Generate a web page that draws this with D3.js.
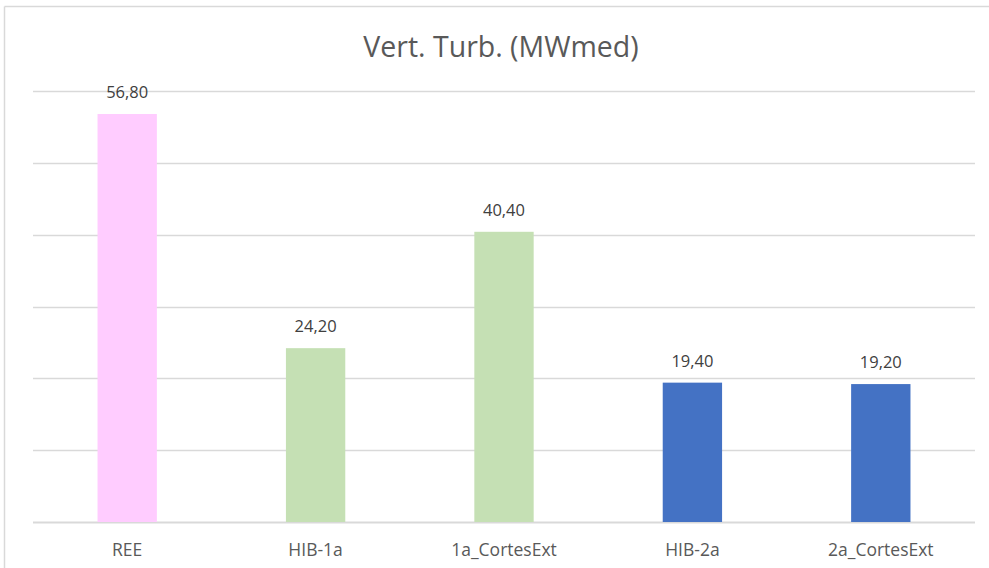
<!DOCTYPE html>
<html>
<head>
<meta charset="utf-8">
<script src="https://cdn.jsdelivr.net/npm/d3@7"></script>
<style>
  html, body { margin: 0; padding: 0; background: #fff; }
  svg { display: block; font-family: "Open Sans", "Noto Sans", sans-serif; }
</style>
</head>
<body>
<svg id="chart" width="989" height="568"></svg>
<script>
// Vert. Turb. (MWmed) — column chart
const categories = ['REE', 'HIB-1a', '1a_CortesExt', 'HIB-2a', '2a_CortesExt'];
const values = [56.80, 24.20, 40.40, 19.40, 19.20];
const barColors = ['#FFCCFF', '#C5E0B4', '#C5E0B4', '#4472C4', '#4472C4'];
const yTicks = [0, 10, 20, 30, 40, 50, 60];
const title = 'Vert. Turb. (MWmed)';

const margin = { top: 91, right: 14, bottom: 46, left: 33 };
const W = 989, H = 568;
const iw = W - margin.left - margin.right;
const ih = H - margin.top - margin.bottom;

const svg = d3.select('#chart');

// chart area border (top + left visible)
svg.append('line').attr('x1', 4.5).attr('x2', W).attr('y1', 6.5).attr('y2', 6.5)
    .attr('stroke', '#d9d9d9').attr('stroke-width', 1.5);
svg.append('line').attr('x1', 4.5).attr('x2', 4.5).attr('y1', 6.5).attr('y2', H)
    .attr('stroke', '#d9d9d9').attr('stroke-width', 1.5);

const g = svg.append('g').attr('transform', `translate(${margin.left},${margin.top})`);

const x = d3.scaleBand().domain(categories).range([0, iw]).padding(0);
const y = d3.scaleLinear().domain([0, 60]).range([ih, 0]);
const barW = x.bandwidth() * 0.315;

// gridlines
for (const t of yTicks) {
    g.append('line')
        .attr('x1', 0).attr('x2', iw)
        .attr('y1', Math.round(y(t)) + 0.5).attr('y2', Math.round(y(t)) + 0.5)
        .attr('stroke', '#d9d9d9').attr('stroke-width', t === 0 ? 2 : 1.5);
}

// bars
categories.forEach((c, i) => {
    const cx = x(c) + x.bandwidth() / 2;
    g.append('rect')
        .attr('x', cx - barW / 2).attr('y', y(values[i]))
        .attr('width', barW).attr('height', ih - y(values[i]))
        .attr('fill', barColors[i]);
    g.append('text')
        .attr('x', cx).attr('y', y(values[i]) - 16)
        .attr('text-anchor', 'middle')
        .attr('font-size', 16.5).attr('fill', '#404040')
        .text(values[i].toFixed(2).replace('.', ','));
    g.append('text')
        .attr('x', cx).attr('y', ih + 34)
        .attr('text-anchor', 'middle')
        .attr('font-size', 17.5).attr('fill', '#595959')
        .text(c);
});

// title
svg.append('text')
    .attr('x', 501).attr('y', 57)
    .attr('text-anchor', 'middle')
    .attr('font-size', 28.5).attr('fill', '#595959')
    .text(title);
</script>
</body>
</html>
